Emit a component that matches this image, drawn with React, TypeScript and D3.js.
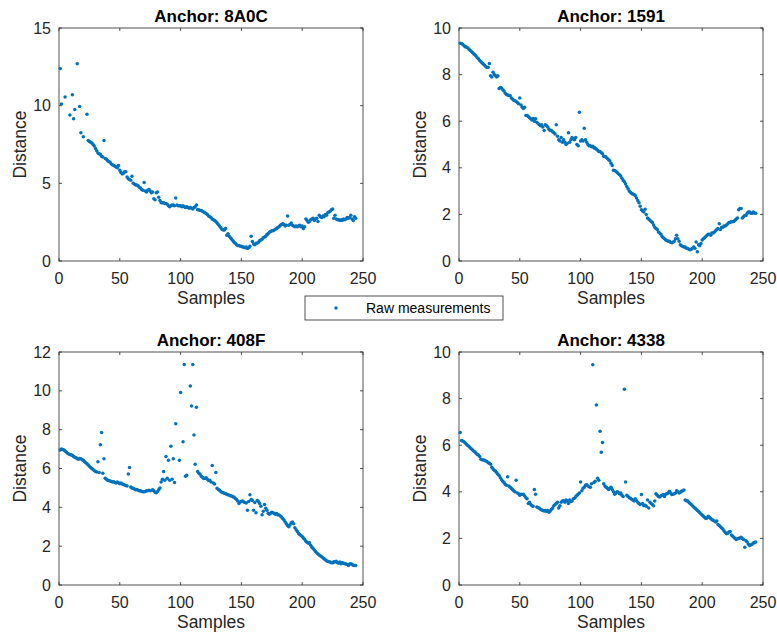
import * as d3 from 'd3';
import React from 'react';

// raw distance measurements per anchor (sample index = position + 1, null = not shown)
const anchor8A0C = [
  12.4, 10.1, null, null, 10.55, null, null, null, 9.4, null,
  10.7, 9.15, 9.75, null, 12.7, null, 9.95, 8.25, null, 8.0,
  null, null, 9.45, 7.75, 7.7, 7.65, 7.6, 7.5, 7.4, 7.25,
  7.1, 6.95, 6.9, 6.85, 6.75, 6.7, 7.75, 6.6, 6.55, 6.45,
  6.4, 6.35, 6.25, 6.2, 6.15, 6.1, 6.05, 6.0, 6.15, 5.85,
  5.7, 5.6, 5.65, 5.75, 5.75, 5.4, 5.3, 5.25, 5.2, 5.45,
  5.0, 4.95, 4.9, 4.9, 4.85, 4.75, 4.7, 4.6, 4.55, 5.05,
  4.5, 4.45, 4.55, 4.6, 4.5, 4.4, 4.45, 4.0, 3.95, 4.4,
  4.45, 4.1, 3.9, 3.75, 3.75, 3.75, 3.7, 3.7, 3.65, 3.55,
  3.5, 3.55, 3.6, 3.6, 3.55, 4.05, 3.6, 3.55, 3.55, 3.55,
  3.5, 3.55, 3.5, 3.45, 3.5, 3.45, 3.4, 3.45, 3.4, 3.35,
  3.45, 3.5, 3.6, 3.3, 3.3, 3.25, 3.25, 3.2, 3.15, 3.1,
  3.05, 3.0, 2.9, 2.85, 2.8, 2.7, 2.65, 2.6, 2.55, 2.45,
  2.35, 2.25, 2.15, 2.05, 2.0, 2.0, 2.1, 1.65, 1.75, 1.6,
  1.5, 1.4, 1.3, 1.2, 1.15, 1.05, 1.0, 1.0, 0.95, 0.95,
  0.9, 0.9, 0.85, 0.9, 0.8, 0.85, 0.95, 1.6, 1.25, 1.1,
  1.05, 1.15, 1.15, 1.2, 1.3, 1.35, 1.4, 1.5, 1.55, 1.6,
  1.7, 1.75, 1.85, 1.9, 1.95, 1.95, 2.0, 2.05, 2.1, 2.15,
  2.2, 2.3, 2.35, 2.4, 2.35, 2.25, 2.3, 2.9, 2.3, 2.35,
  2.45, 2.3, 2.25, 2.2, 2.25, 2.2, 2.25, 2.3, 2.2, 2.25,
  2.1, 2.2, 2.7, 2.6, 2.5, 2.55, 2.65, 2.7, 2.75, 2.6,
  2.7, 2.75, 2.55, 2.95, 2.85, 2.8, 2.9, 2.85, 3.0, 2.95,
  3.1, 3.15, 3.2, 3.3, 3.35, 2.75, 2.95, 2.7, 2.65, 2.65,
  2.6, 2.65, 2.6, 2.7, 2.65, 2.7, 2.8, 2.75, 2.8, 2.95,
  2.7, 2.6, 2.85, 2.75,
];

const anchor1591 = [
  9.35, 9.33, 9.3, 9.25, 9.2, 9.18, 9.15, 9.1, 9.05, 9.0,
  8.95, 8.9, 8.85, 8.8, 8.72, 8.68, 8.6, 8.55, 8.5, 8.45,
  8.4, 8.35, 8.3, 8.32, 8.48, 7.95, 7.9, 8.1, 8.0, 7.95,
  7.9, 7.95, 7.4, 7.45, 7.42, 7.35, 7.3, 7.2, 7.15, 7.12,
  7.1, 7.1, 7.0, 6.95, 6.9, 6.88, 6.85, 6.8, 6.75, 7.0,
  6.7, 6.6, 6.55, 6.6, 6.25, 6.25, 6.2, 6.15, 6.1, 6.05,
  6.12, 6.0, 6.1, 5.95, 5.9, 5.85, 5.8, 5.85, 5.75, 5.6,
  5.85, 5.8, 5.75, 5.65, 5.6, 5.6, 5.55, 5.5, 5.45, 5.85,
  5.35, 5.2, 5.15, 5.3, 5.1, 5.2, 5.1, 5.0, 5.05, 5.5,
  5.1, 5.2, 5.3, 5.25, 5.2, 5.3, 5.0, 4.95, 6.38, 5.15,
  5.2, 5.15, 5.7, 5.2, 5.1, 5.0, 4.95, 4.95, 4.9, 4.92,
  4.85, 4.85, 4.8, 4.75, 4.7, 4.7, 4.65, 4.6, 4.5, 4.48,
  4.45, 4.4, 4.35, 4.3, 4.2, 4.1, 3.9, 3.88, 3.85, 3.8,
  3.75, 3.7, 3.65, 3.55, 3.45, 3.4, 3.3, 3.2, 3.1, 3.0,
  2.95, 2.9, 2.88, 2.85, 2.8, 2.7, 2.6, 2.5, 2.35, 2.2,
  2.15, 2.1, 2.22, 2.0, 1.85, 1.8, 1.75, 1.7, 1.65, 1.55,
  1.45, 1.4, 1.35, 1.25, 1.2, 1.15, 1.05, 1.0, 0.95, 0.9,
  0.88, 0.85, 0.85, 0.8, 0.78, 0.8, 0.85, 0.95, 1.1, 0.95,
  0.85, 0.7, 0.65, 0.62, 0.6, 0.6, 0.55, 0.55, 0.5, 0.48,
  0.5, 0.55, 0.6, 0.55, 0.82, 0.4, 0.7, 0.65, 0.75, 0.9,
  0.95, 1.0, 1.05, 1.1, 1.15, 1.15, 1.1, 1.2, 1.2, 1.25,
  1.3, 1.35, 1.4, 1.6, 1.35, 1.45, 1.45, 1.5, 1.5, 1.55,
  1.6, 1.65, 1.65, 1.7, 1.68, 1.7, 1.75, 1.8, 1.85, 2.2,
  2.25, 2.25, 1.85, 1.9, 1.95, 1.95, 2.05, 2.1, 2.1, 2.05,
  2.05, 2.1, 2.05, 2.05,
];

const anchor408F = [
  6.95, 7.0, 6.98, 6.95, 6.9, 6.85, 6.78, 6.75, 6.72, 6.7,
  6.68, 6.62, 6.58, 6.55, 6.5, 6.48, 6.52, 6.5, 6.45, 6.42,
  6.35, 6.3, 6.25, 6.18, 6.12, 6.05, 6.0, 5.95, 5.9, 5.85,
  5.82, 6.35, 5.8, 7.22, 7.85, 5.75, 6.5, 5.5, 5.45, 5.4,
  5.38, 5.35, 5.33, 5.3, 5.32, 5.28, 5.25, 5.3, 5.27, 5.22,
  5.25, 5.2, 5.18, 5.15, 5.12, 5.1, 5.72, 6.05, 5.05, 5.0,
  4.98, 4.95, 4.9, 4.92, 4.88, 4.85, 4.85, 4.82, 4.8, 4.8,
  4.82, 4.85, 4.85, 4.88, 4.85, 4.87, 4.9, 4.85, 4.78, 4.75,
  4.82, 4.9, 5.0, 5.3, 5.45, 5.85, 5.4, 6.62, 5.5, 6.42,
  5.4, 7.15, 5.45, 6.5, 5.28, 8.3, null, null, 6.42, 9.92,
  null, 7.38, 11.35, 5.6, 5.65, null, null, 10.25, 9.22, 11.35,
  7.72, 6.22, 9.15, 5.85, 5.75, 5.7, 5.6, 5.55, 5.48, 5.5,
  5.52, 5.45, 5.38, 5.4, 5.3, 6.15, 5.25, 5.2, 5.8, 4.98,
  4.92, 4.88, 4.82, 4.78, 4.75, 4.72, 4.7, 4.68, 4.65, 4.62,
  4.6, 4.58, 4.55, 4.52, 4.45, 4.4, 4.32, 4.2, 4.28, 4.3,
  4.32, 4.28, 4.25, 4.22, 3.85, 4.3, 4.65, 4.4, 4.35, 3.85,
  4.25, 3.72, 4.35, 4.3, 4.2, 4.05, 3.62, 3.8, 4.15, 3.95,
  3.85, 3.7, 3.65, 3.7, 3.75, 3.72, 3.68, 3.65, 3.68, 3.62,
  3.6, 3.55, 3.5, 3.42, 3.35, 3.25, 3.15, 3.05, 3.0, 3.1,
  3.2, 3.25, 3.15, 2.95, 2.85, 2.75, 2.65, 2.6, 2.55, 2.5,
  2.42, 2.35, 2.25, 2.2, 2.15, 2.18, 2.05, 1.95, 1.88, 1.8,
  1.72, 1.65, 1.6, 1.55, 1.5, 1.45, 1.4, 1.35, 1.3, 1.25,
  1.22, 1.2, 1.18, 1.15, 1.15, 1.2, 1.18, 1.22, 1.15, 1.12,
  1.18, 1.1, 1.15, 1.12, 1.1, 1.08, 1.05, 1.0, 1.08, 1.1,
  1.05, 1.02, 1.0, 1.0,
];

const anchor4338 = [
  6.55, 6.2, 6.18, 6.15, 6.1, 6.05, 6.0, 5.95, 5.9, 5.85,
  5.8, 5.75, 5.72, 5.65, 5.6, 5.58, 5.52, 5.4, 5.38, 5.36,
  5.35, 5.32, 5.3, 5.25, 5.22, 5.18, 5.05, 4.98, 4.92, 4.88,
  4.82, 4.75, 4.7, 4.6, 4.52, 4.45, 4.4, 4.32, 4.28, 4.65,
  4.25, 4.2, 4.15, 4.1, 4.05, 4.0, 4.5, 3.95, 3.92, 3.85,
  3.9, 3.88, 3.9, 3.82, 3.75, 3.7, 3.5, 3.55, 3.45, 3.4,
  3.38, 4.1, 3.9, 3.35, 3.32, 3.3, 3.25, 3.22, 3.2, 3.18,
  3.2, 3.15, 3.2, 3.12, 3.18, 3.25, 3.3, 3.4, 3.45, 3.5,
  3.55, 3.3, 3.4, 3.55, 3.6, 3.62, 3.55, 3.65, 3.6, 3.5,
  3.65, 3.58, 3.6, 3.7, 3.72, 3.8, 3.85, 3.9, 3.95, 4.42,
  4.05, 4.15, 4.2, 4.28, 4.3, 4.25, 4.22, 4.2, 4.35, 9.45,
  4.4, 4.45, 7.72, 4.58, 4.5, 6.6, 5.7, 6.12, 4.35, 4.25,
  4.2, 4.15, 4.1, 4.15, 4.2, 4.1, 4.0, 3.9, 3.95, 4.0,
  3.98, 3.92, 3.95, 3.85, 3.8, 8.4, 4.42, 3.85, 3.8, 3.75,
  3.72, 3.68, 3.65, 3.6, 3.7, 3.62, 3.55, 3.5, 3.45, 3.88,
  3.5, 3.4, 3.42, 3.38, 3.65, 3.3, 3.55, 3.5, 3.45, 3.4,
  3.6, 3.92, 3.85, 3.8, 3.78, 3.82, 3.85, 3.88, 3.8, 3.9,
  3.92, 3.95, 4.02, 3.95, 3.88, 3.9, 3.92, 3.95, 4.05, 4.0,
  3.95, 3.98, 4.02, 4.05, 4.08, 3.65, 3.62, 3.6, 3.55, 3.5,
  3.45, 3.4, 3.35, 3.3, 3.25, 3.2, 3.15, 3.1, 3.05, 3.0,
  2.95, 2.9, 2.85, 2.88, 2.95, 2.9, 2.85, 2.8, 2.78, 2.75,
  2.7, 2.75, 2.6, 2.55, 2.5, 2.45, 2.4, 2.32, 2.25, 2.2,
  2.22, 2.28, 2.3, 2.15, 2.1, 2.05, 2.0, 1.95, 1.98, 2.0,
  2.02, 2.05, 2.0, 1.95, 1.62, 1.9, 1.85, 1.75, 1.7, 1.72,
  1.75, 1.8, 1.82, 1.85,
];

const xTicks = [0, 50, 100, 150, 200, 250];
const yTicks8A0C = [0, 5, 10, 15];
const yTicks1591 = [0, 2, 4, 6, 8, 10];
const yTicks408F = [0, 2, 4, 6, 8, 10, 12];
const yTicks4338 = [0, 2, 4, 6, 8, 10];

const FONT = '"Liberation Sans", Arial, Helvetica, sans-serif';
const AXIS_COLOR = '#262626';
const DOT_COLOR = '#0072BD';

const Panel = ({ left, top, width, height, title, values, yTicks }) => {
  const xScale = d3.scaleLinear().domain([0, 250]).range([0, width]);
  const yScale = d3
    .scaleLinear()
    .domain([0, d3.max(yTicks)])
    .range([height, 0]);
  const tick = 3;

  const points = values
    .map((v, i) => ({ x: i + 1, y: v }))
    .filter((d) => d.y !== null);

  return (
    <g transform={`translate(${left},${top})`} fontFamily={FONT}>
      {/* ticks, inward on all four sides */}
      {xTicks.map((t) => (
        <g key={'x' + t} stroke={AXIS_COLOR} strokeWidth={0.8}>
          <line x1={xScale(t)} x2={xScale(t)} y1={height} y2={height - tick} />
          <line x1={xScale(t)} x2={xScale(t)} y1={0} y2={tick} />
        </g>
      ))}
      {yTicks.map((t) => (
        <g key={'y' + t} stroke={AXIS_COLOR} strokeWidth={0.8}>
          <line x1={0} x2={tick} y1={yScale(t)} y2={yScale(t)} />
          <line x1={width} x2={width - tick} y1={yScale(t)} y2={yScale(t)} />
        </g>
      ))}
      <rect
        x={0}
        y={0}
        width={width}
        height={height}
        fill="none"
        stroke={AXIS_COLOR}
        strokeWidth={0.8}
      />

      {/* points */}
      {points.map((d) => (
        <circle
          key={d.x}
          cx={xScale(d.x)}
          cy={yScale(d.y)}
          r={1.75}
          fill={DOT_COLOR}
        />
      ))}

      {/* tick labels */}
      {xTicks.map((t) => (
        <text
          key={'xl' + t}
          x={xScale(t)}
          y={height + 22.5}
          textAnchor="middle"
          fontSize={16}
          fill={AXIS_COLOR}
        >
          {t}
        </text>
      ))}
      {yTicks.map((t) => (
        <text
          key={'yl' + t}
          x={-8}
          y={yScale(t) + 5.5}
          textAnchor="end"
          fontSize={16}
          fill={AXIS_COLOR}
        >
          {t}
        </text>
      ))}

      {/* labels */}
      <text
        x={width / 2}
        y={-6.5}
        textAnchor="middle"
        fontSize={17}
        fontWeight="bold"
        fill="#000"
      >
        {title}
      </text>
      <text
        x={width / 2}
        y={height + 43}
        textAnchor="middle"
        fontSize={17.5}
        fill={AXIS_COLOR}
      >
        Samples
      </text>
      <text
        transform={`translate(${-33},${height / 2}) rotate(-90)`}
        textAnchor="middle"
        fontSize={17.5}
        fill={AXIS_COLOR}
      >
        Distance
      </text>
    </g>
  );
};

export default function App() {
  const w = 304;
  const h = 233;
  return (
    <svg
      width={777}
      height={636}
      style={{ position: 'absolute', left: 0, top: 0, background: '#fff' }}
    >
      <rect width={777} height={636} fill="#fff" />
      <Panel left={59} top={28} width={w} height={h} title="Anchor: 8A0C" values={anchor8A0C} yTicks={yTicks8A0C} />
      <Panel left={459} top={28} width={w} height={h} title="Anchor: 1591" values={anchor1591} yTicks={yTicks1591} />
      <Panel left={59} top={352} width={w} height={h} title="Anchor: 408F" values={anchor408F} yTicks={yTicks408F} />
      <Panel left={459} top={352} width={w} height={h} title="Anchor: 4338" values={anchor4338} yTicks={yTicks4338} />

      {/* legend */}
      <g fontFamily={FONT}>
        <rect x={305} y={296} width={198} height={24} fill="#fff" stroke={AXIS_COLOR} strokeWidth={0.8} />
        <circle cx={336} cy={308} r={1.75} fill={DOT_COLOR} />
        <text x={366} y={313} fontSize={14} fill="#000">
          Raw measurements
        </text>
      </g>
    </svg>
  );
}
